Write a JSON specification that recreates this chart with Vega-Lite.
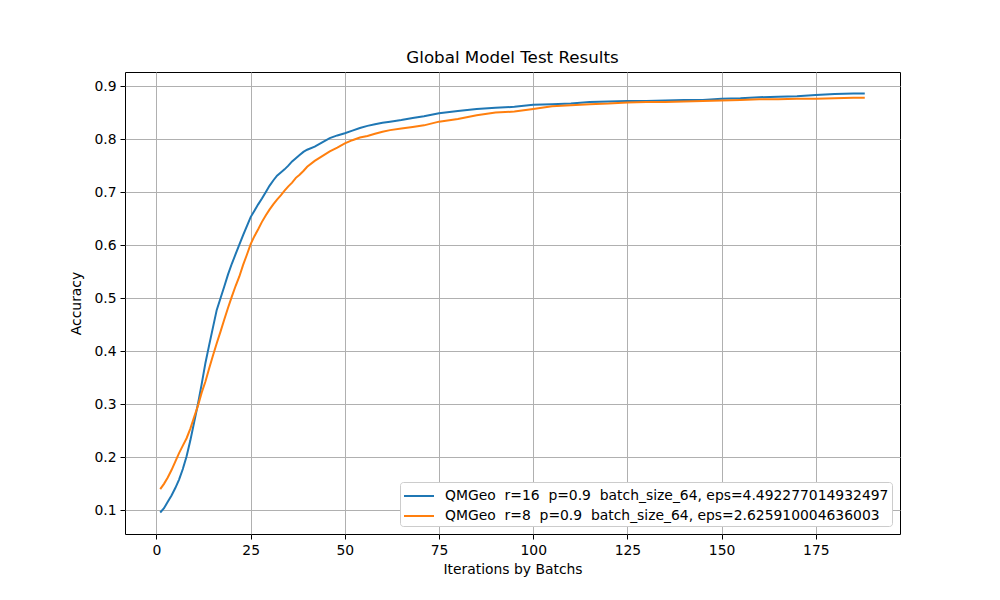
{
  "$schema": "https://vega.github.io/schema/vega-lite/v6.json",
  "width": 775,
  "height": 462,
  "autosize": "none",
  "padding": {"left": 125, "top": 72, "right": 100, "bottom": 66},
  "background": "white",
  "title": {"text": "Global Model Test Results", "font": "DejaVu Sans", "fontSize": 16.7, "fontWeight": "normal", "color": "black", "offset": 5},
  "config": {
    "font": "DejaVu Sans",
    "view": {"stroke": "black", "strokeWidth": 1}
  },
  "data": {"values": [
    {"x": 1, "a": 0.096, "b": 0.140},
    {"x": 2, "a": 0.104, "b": 0.150},
    {"x": 3, "a": 0.116, "b": 0.162},
    {"x": 4, "a": 0.128, "b": 0.176},
    {"x": 5, "a": 0.142, "b": 0.192},
    {"x": 6, "a": 0.158, "b": 0.208},
    {"x": 7, "a": 0.178, "b": 0.222},
    {"x": 8, "a": 0.202, "b": 0.236},
    {"x": 9, "a": 0.232, "b": 0.254},
    {"x": 10, "a": 0.266, "b": 0.276},
    {"x": 11, "a": 0.300, "b": 0.297},
    {"x": 12, "a": 0.338, "b": 0.322},
    {"x": 13, "a": 0.378, "b": 0.343},
    {"x": 14, "a": 0.412, "b": 0.368},
    {"x": 15, "a": 0.445, "b": 0.392},
    {"x": 16, "a": 0.478, "b": 0.415},
    {"x": 17, "a": 0.500, "b": 0.437},
    {"x": 18, "a": 0.522, "b": 0.460},
    {"x": 19, "a": 0.545, "b": 0.482},
    {"x": 20, "a": 0.565, "b": 0.503},
    {"x": 21, "a": 0.583, "b": 0.523},
    {"x": 22, "a": 0.601, "b": 0.541},
    {"x": 23, "a": 0.619, "b": 0.563},
    {"x": 24, "a": 0.636, "b": 0.582},
    {"x": 25, "a": 0.653, "b": 0.602},
    {"x": 26, "a": 0.665, "b": 0.617},
    {"x": 27, "a": 0.677, "b": 0.630},
    {"x": 28, "a": 0.688, "b": 0.644},
    {"x": 29, "a": 0.700, "b": 0.656},
    {"x": 30, "a": 0.712, "b": 0.667},
    {"x": 31, "a": 0.722, "b": 0.677},
    {"x": 32, "a": 0.731, "b": 0.686},
    {"x": 33, "a": 0.737, "b": 0.694},
    {"x": 34, "a": 0.743, "b": 0.703},
    {"x": 35, "a": 0.750, "b": 0.711},
    {"x": 36, "a": 0.758, "b": 0.718},
    {"x": 37, "a": 0.764, "b": 0.727},
    {"x": 38, "a": 0.770, "b": 0.733},
    {"x": 39, "a": 0.776, "b": 0.740},
    {"x": 40, "a": 0.780, "b": 0.748},
    {"x": 42, "a": 0.786, "b": 0.759},
    {"x": 44, "a": 0.794, "b": 0.768},
    {"x": 46, "a": 0.802, "b": 0.777},
    {"x": 48, "a": 0.807, "b": 0.784},
    {"x": 50, "a": 0.811, "b": 0.792},
    {"x": 52, "a": 0.816, "b": 0.798},
    {"x": 54, "a": 0.821, "b": 0.803},
    {"x": 56, "a": 0.825, "b": 0.806},
    {"x": 58, "a": 0.828, "b": 0.810},
    {"x": 60, "a": 0.831, "b": 0.814},
    {"x": 62, "a": 0.833, "b": 0.817},
    {"x": 65, "a": 0.836, "b": 0.820},
    {"x": 68, "a": 0.840, "b": 0.823},
    {"x": 71, "a": 0.843, "b": 0.826},
    {"x": 75, "a": 0.849, "b": 0.833},
    {"x": 80, "a": 0.853, "b": 0.838},
    {"x": 85, "a": 0.857, "b": 0.845},
    {"x": 90, "a": 0.859, "b": 0.850},
    {"x": 95, "a": 0.861, "b": 0.852},
    {"x": 100, "a": 0.865, "b": 0.857},
    {"x": 105, "a": 0.866, "b": 0.862},
    {"x": 110, "a": 0.867, "b": 0.864},
    {"x": 115, "a": 0.870, "b": 0.866},
    {"x": 120, "a": 0.871, "b": 0.867},
    {"x": 125, "a": 0.872, "b": 0.869},
    {"x": 130, "a": 0.872, "b": 0.870},
    {"x": 135, "a": 0.873, "b": 0.870},
    {"x": 140, "a": 0.874, "b": 0.871},
    {"x": 145, "a": 0.874, "b": 0.872},
    {"x": 150, "a": 0.876, "b": 0.873},
    {"x": 155, "a": 0.877, "b": 0.874},
    {"x": 160, "a": 0.879, "b": 0.875},
    {"x": 165, "a": 0.880, "b": 0.875},
    {"x": 170, "a": 0.881, "b": 0.876},
    {"x": 175, "a": 0.883, "b": 0.876},
    {"x": 180, "a": 0.885, "b": 0.877},
    {"x": 185, "a": 0.886, "b": 0.878},
    {"x": 188, "a": 0.886, "b": 0.878}
  ]},
  "transform": [{"fold": ["a", "b"], "as": ["series", "acc"]}],
  "mark": {"type": "line", "strokeWidth": 2, "clip": true},
  "encoding": {
    "x": {
      "field": "x", "type": "quantitative",
      "scale": {"domain": [-8.35, 197.35], "nice": false, "zero": false},
      "axis": {
        "title": "Iterations by Batchs", "titleFont": "DejaVu Sans", "titleFontSize": 13.9, "titleFontWeight": "normal", "titleColor": "black", "titlePadding": 6,
        "values": [0, 25, 50, 75, 100, 125, 150, 175],
        "labelFont": "DejaVu Sans", "labelFontSize": 13.9, "labelColor": "black", "labelPadding": 4,
        "domain": false, "tickColor": "black", "tickSize": 5, "tickWidth": 1,
        "grid": true, "gridColor": "#b0b0b0", "gridWidth": 1
      }
    },
    "y": {
      "field": "acc", "type": "quantitative",
      "scale": {"domain": [0.0554, 0.9266], "nice": false, "zero": false},
      "axis": {
        "title": "Accuracy", "titleFont": "DejaVu Sans", "titleFontSize": 13.9, "titleFontWeight": "normal", "titleColor": "black", "titlePadding": 10,
        "values": [0.1, 0.2, 0.3, 0.4, 0.5, 0.6, 0.7, 0.8, 0.9], "format": ".1f",
        "labelFont": "DejaVu Sans", "labelFontSize": 13.9, "labelColor": "black", "labelPadding": 4,
        "domain": false, "tickColor": "black", "tickSize": 5, "tickWidth": 1,
        "grid": true, "gridColor": "#b0b0b0", "gridWidth": 1
      }
    },
    "color": {
      "field": "series", "type": "nominal",
      "scale": {"domain": ["a", "b"], "range": ["#1f77b4", "#ff7f0e"]},
      "legend": {
        "title": null,
        "orient": "bottom-right",
        "offset": 8,
        "labelExpr": "datum.value == 'a' ? 'QMGeo\u00a0 r=16\u00a0 p=0.9\u00a0 batch_size_64, eps=4.492277014932497' : 'QMGeo\u00a0 r=8\u00a0 p=0.9\u00a0 batch_size_64, eps=2.625910004636003'",
        "labelFont": "DejaVu Sans", "labelFontSize": 13.9, "labelColor": "black", "labelLimit": 1000, "labelOffset": 20,
        "symbolType": "M-1,0H2", "symbolSize": 400, "symbolStrokeWidth": 2, "symbolFillColor": "transparent",
        "rowPadding": 2,
        "fillColor": "white", "strokeColor": "#cccccc", "cornerRadius": 3, "padding": 3
      }
    }
  }
}
